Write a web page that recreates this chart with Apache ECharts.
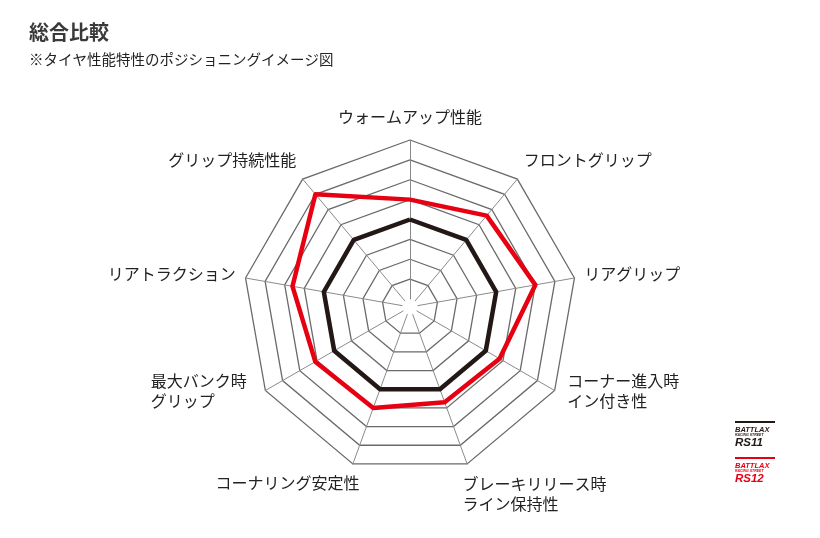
<!DOCTYPE html>
<html>
<head>
<meta charset="utf-8">
<script src="https://cdn.jsdelivr.net/npm/echarts@6/dist/echarts.min.js"></script>
<style>html,body{margin:0;padding:0;background:#fff}#c{width:820px;height:538px}</style>
</head>
<body>
<div id="c"></div>
<script>
// Indicators in counter-clockwise order starting from the top
var indicators = ['ウォームアップ性能', 'グリップ持続性能', 'リアトラクション', '最大バンク時\nグリップ', 'コーナリング安定性', 'ブレーキリリース時\nライン保持性', 'コーナー進入時\nイン付き性', 'リアグリップ', 'フロントグリップ'];
var maxValue = 8;
var seriesNames = ['RS11', 'RS12'];
var rs11 = [4, 4, 4, 4, 4, 4, 4, 4, 4];
var rs12 = [5, 7, 5.6, 5.1, 5, 4.7, 4.8, 6, 5.6];

var chart = echarts.init(document.getElementById('c'));
var jp = '"Noto Sans CJK JP", "Noto Sans", sans-serif';

// per-label nudges (rich-text paddings) so names sit where the reference puts them
var namePad = [
  [0, 0, 6, 0],
  [0, 0, 22, 0],
  [0, 0, 4, 0],
  [0, 10, 9, 0],
  [20, -10, 0, 0],
  [41, 0, 0, -8],
  [0, 0, 9, 4],
  [0, 0, 4, 0],
  [0, 0, 22, 0]
];
var rich = {};
namePad.forEach(function (p, i) {
  var st = {fontFamily: jp, fontSize: 16, color: '#222', lineHeight: 20, padding: p};
  if (i === 3) { st.width = 96; st.align = 'left'; }
  rich['n' + i] = st;
});

chart.setOption({
  animation: false,
  title: {
    text: '総合比較',
    subtext: '※タイヤ性能特性のポジショニングイメージ図',
    left: 24, top: 17,
    itemGap: 10,
    textStyle: {fontFamily: jp, fontSize: 20, fontWeight: 'bold', color: '#3a3a3a'},
    subtextStyle: {fontFamily: jp, fontSize: 14.5, color: '#222'}
  },
  legend: {
    orient: 'vertical',
    left: 730, top: 416,
    padding: 0,
    icon: 'none',
    itemWidth: 0, itemHeight: 0,
    itemGap: 3,
    selectedMode: false,
    data: seriesNames,
    formatter: function (n) {
      var k = n === 'RS11' ? 'K' : 'R';
      return '{line' + k + '|}\n{b' + k + '|BATTLAX}\n{s' + k + '|RACING STREET}\n{m' + k + '|' + n + '}';
    },
    textStyle: {
      rich: {
        lineK: {width: 40, height: 2, backgroundColor: '#231815', lineHeight: 8},
        lineR: {width: 40, height: 2, backgroundColor: '#e60012', lineHeight: 8},
        bK: {fontFamily: 'Liberation Sans', fontStyle: 'italic', fontWeight: 900, fontSize: 7.5, color: '#231815', lineHeight: 7},
        bR: {fontFamily: 'Liberation Sans', fontStyle: 'italic', fontWeight: 900, fontSize: 7.5, color: '#e60012', lineHeight: 7},
        sK: {fontFamily: 'Liberation Sans', fontStyle: 'italic', fontWeight: 'bold', fontSize: 3.5, color: '#231815', lineHeight: 5},
        sR: {fontFamily: 'Liberation Sans', fontStyle: 'italic', fontWeight: 'bold', fontSize: 3.5, color: '#e60012', lineHeight: 5},
        mK: {fontFamily: 'Liberation Sans', fontStyle: 'italic', fontWeight: 900, fontSize: 11.5, color: '#231815', lineHeight: 10},
        mR: {fontFamily: 'Liberation Sans', fontStyle: 'italic', fontWeight: 900, fontSize: 11.5, color: '#e60012', lineHeight: 10}
      }
    }
  },
  radar: {
    center: [410, 307],
    radius: [8, 167],
    startAngle: 90,
    splitNumber: 8,
    shape: 'polygon',
    nameGap: 10,
    indicator: indicators.map(function (n) { return {name: n, min: 0, max: maxValue}; }),
    axisName: {
      fontFamily: jp, fontSize: 16, color: '#222', lineHeight: 20,
      formatter: function (name) {
        var i = indicators.indexOf(name);
        return name.split('\n').map(function (line) { return '{n' + i + '|' + line + '}'; }).join('\n');
      },
      rich: rich
    },
    splitLine: {lineStyle: {color: ['rgba(0,0,0,0)', '#6a6a6a', '#6a6a6a', '#6a6a6a', '#6a6a6a', '#6a6a6a', '#6a6a6a', '#6a6a6a', '#6a6a6a'], width: 1.3}},
    splitArea: {show: false},
    axisLine: {lineStyle: {color: '#8a8a8a', width: 1}}
  },
  series: [{
    type: 'radar',
    symbol: 'none',
    data: [
      {name: 'RS11', value: rs11, lineStyle: {color: '#231815', width: 4.5}, itemStyle: {color: '#231815'}},
      {name: 'RS12', value: rs12, lineStyle: {color: '#e60012', width: 4.5}, itemStyle: {color: '#e60012'}}
    ]
  }]
});
</script>
</body>
</html>
